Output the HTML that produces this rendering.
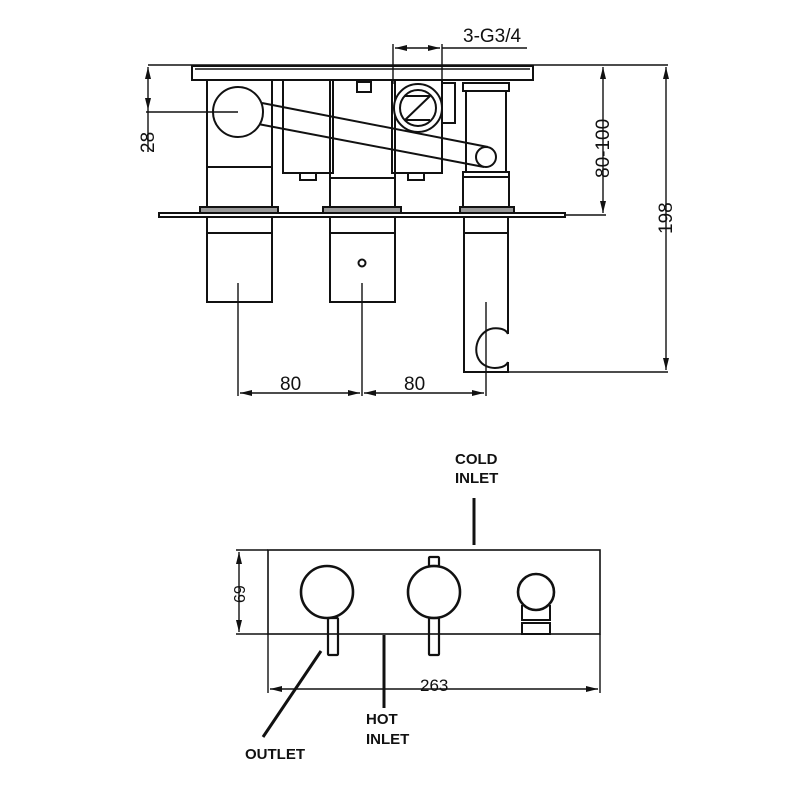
<!DOCTYPE html>
<html><head><style>body{margin:0;background:#fff}svg{display:block}text{font-family:"Liberation Sans",sans-serif;fill:#111}</style></head>
<body>
<svg width="800" height="800" viewBox="0 0 800 800" xmlns="http://www.w3.org/2000/svg">
<defs>
<marker id="a" viewBox="0 0 12 6" refX="12" refY="3" markerWidth="12" markerHeight="6" orient="auto-start-reverse" markerUnits="userSpaceOnUse"><path d="M0,0L12,3L0,6z" fill="#111"/></marker>
</defs>
<g stroke="#111" stroke-width="2" fill="none">
<!-- top plate -->
<line x1="148" y1="65" x2="668" y2="65" stroke-width="1.4"/>
<rect x="192" y="66" width="341" height="14"/>
<line x1="195" y1="69" x2="530" y2="69" stroke-width="1.4"/>
<!-- left column -->
<rect x="207" y="80" width="65" height="128"/>
<line x1="207" y1="167" x2="272" y2="167"/>
<!-- middle boxes -->
<rect x="283" y="80" width="50" height="93"/>
<rect x="330" y="80" width="65" height="128"/>
<line x1="330" y1="178" x2="395" y2="178"/>
<rect x="392" y="80" width="50" height="93"/>
<rect x="442" y="83" width="13" height="40"/>
<rect x="300" y="173" width="16" height="7"/>
<rect x="408" y="173" width="16" height="7"/>
<rect x="357" y="82" width="14" height="10"/>
<!-- right column -->
<rect x="463" y="83" width="46" height="8"/>
<rect x="466" y="91" width="40" height="81"/>
<rect x="463" y="172" width="46" height="36"/>
<line x1="463" y1="177" x2="509" y2="177"/>
<!-- lever -->
<path d="M262,103 L488,147 M258,124 L484,167" fill="none"/>
<circle cx="238" cy="112" r="25" fill="#fff"/>
<circle cx="486" cy="157" r="10" fill="#fff"/>
<!-- G3/4 circle -->
<circle cx="418" cy="108" r="24" fill="#fff"/>
<circle cx="418" cy="108" r="18"/>
<path d="M405,96 H430 M405,120 H430 M405,120 L430,96"/>
<!-- flanges -->
<rect x="200" y="207" width="78" height="6" fill="#999"/>
<rect x="323" y="207" width="78" height="6" fill="#999"/>
<rect x="460" y="207" width="54" height="6" fill="#999"/>
<rect x="159" y="213" width="406" height="4"/>
<!-- lower columns -->
<path d="M207,217 V302 H272 V217 M207,233 H272"/>
<path d="M330,217 V302 H395 V217 M330,233 H395"/>
<circle cx="362" cy="263" r="3.5"/>
<path d="M464,217 V372 H508 V362 M508,334 V217 M464,233 H508"/>
<path d="M508,334 C505,327 492,327 486,331 C473,340 473,360 486,366 C492,369 505,369 508,362"/>
<!-- dims -->
<line x1="238" y1="283" x2="238" y2="396" stroke-width="1.4"/>
<line x1="362" y1="283" x2="362" y2="396" stroke-width="1.4"/>
<line x1="486" y1="302" x2="486" y2="396" stroke-width="1.4"/>
<line x1="240" y1="393" x2="360" y2="393" stroke-width="1.4" marker-start="url(#a)" marker-end="url(#a)"/>
<line x1="364" y1="393" x2="484" y2="393" stroke-width="1.4" marker-start="url(#a)" marker-end="url(#a)"/>
<line x1="508" y1="372" x2="668" y2="372" stroke-width="1.4"/>
<line x1="565" y1="215" x2="606" y2="215" stroke-width="1.4"/>
<line x1="603" y1="67" x2="603" y2="213" stroke-width="1.4" marker-start="url(#a)" marker-end="url(#a)"/>
<line x1="666" y1="67" x2="666" y2="370" stroke-width="1.4" marker-start="url(#a)" marker-end="url(#a)"/>
<line x1="146" y1="112" x2="238" y2="112" stroke-width="1.4"/>
<line x1="148" y1="67" x2="148" y2="110" stroke-width="1.4" marker-start="url(#a)" marker-end="url(#a)"/>
<line x1="148" y1="110" x2="148" y2="152" stroke-width="1.4"/>
<line x1="393" y1="44" x2="393" y2="84" stroke-width="1.4"/>
<line x1="442" y1="44" x2="442" y2="84" stroke-width="1.4"/>
<line x1="395" y1="48" x2="440" y2="48" stroke-width="1.4" marker-start="url(#a)" marker-end="url(#a)"/>
<line x1="442" y1="48" x2="527" y2="48" stroke-width="1.4"/>
<!-- bottom view -->
<rect x="268" y="550" width="332" height="84" stroke-width="1.6"/>
<line x1="236" y1="550" x2="268" y2="550" stroke-width="1.4"/>
<line x1="236" y1="634" x2="268" y2="634" stroke-width="1.4"/>
<line x1="239" y1="552" x2="239" y2="632" stroke-width="1.4" marker-start="url(#a)" marker-end="url(#a)"/>
<line x1="268" y1="634" x2="268" y2="693" stroke-width="1.4"/>
<line x1="600" y1="634" x2="600" y2="693" stroke-width="1.4"/>
<line x1="270" y1="689" x2="598" y2="689" stroke-width="1.4" marker-start="url(#a)" marker-end="url(#a)"/>
<circle cx="327" cy="592" r="26" stroke-width="2.6"/>
<rect x="328" y="618" width="10" height="37" rx="1" stroke-width="2.2"/>
<circle cx="434" cy="592" r="26" stroke-width="2.6"/>
<rect x="429" y="557" width="10" height="9" rx="1" stroke-width="2.2"/>
<rect x="429" y="618" width="10" height="37" rx="1" stroke-width="2.2"/>
<circle cx="536" cy="592" r="18" stroke-width="2.6"/>
<path d="M522,605 V620 H550 V605" stroke-width="2"/>
<rect x="522" y="623" width="28" height="11" stroke-width="2"/>
<line x1="474" y1="498" x2="474" y2="545" stroke-width="3"/>
<line x1="384" y1="635" x2="384" y2="708" stroke-width="3"/>
<line x1="321" y1="651" x2="263" y2="737" stroke-width="3"/>
</g>
<g font-size="19">
<text x="463" y="42" font-size="19">3-G3/4</text>
<text x="280" y="390">80</text>
<text x="404" y="390">80</text>
<text transform="translate(154,153) rotate(-90)">28</text>
<text transform="translate(609,178) rotate(-90)">80-100</text>
<text transform="translate(672,234) rotate(-90)">198</text>
<text transform="translate(245,603) rotate(-90)" font-size="16">69</text>
<text x="420" y="691" font-size="17">263</text>
<text x="455" y="464" font-size="15" font-weight="bold">COLD</text>
<text x="455" y="483" font-size="15" font-weight="bold">INLET</text>
<text x="366" y="724" font-size="15" font-weight="bold">HOT</text>
<text x="366" y="744" font-size="15" font-weight="bold">INLET</text>
<text x="245" y="759" font-size="15" font-weight="bold">OUTLET</text>
</g>
</svg>
</body></html>
